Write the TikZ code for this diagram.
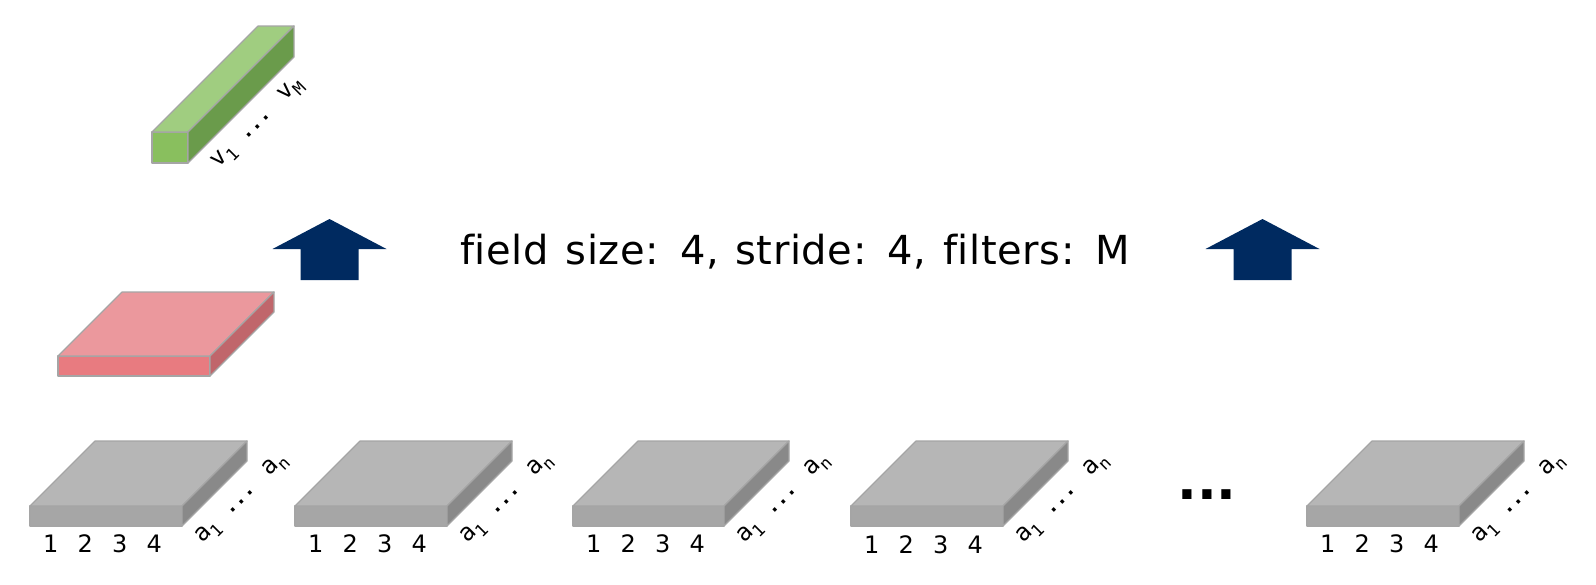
\documentclass[tikz,border=0pt]{standalone}
\usepackage{fontspec}
\setmainfont{DejaVu Sans}
\newfontfamily\monofam{DejaVu Sans Mono}
\newfontfamily\titlefont[WordSpace=1.25,LetterSpace=1.5,Ligatures=CommonOff]{DejaVu Sans}
\usetikzlibrary{calc}
\definecolor{edgegray}{RGB}{165,165,165}
\definecolor{graytop}{RGB}{182,182,182}
\definecolor{grayfront}{RGB}{166,166,166}
\definecolor{grayside}{RGB}{137,137,137}
\definecolor{redtop}{RGB}{235,152,157}
\definecolor{redfront}{RGB}{232,123,128}
\definecolor{redside}{RGB}{192,102,107}
\definecolor{greentop}{RGB}{160,205,128}
\definecolor{greenfront}{RGB}{137,191,94}
\definecolor{greenside}{RGB}{106,155,75}
\definecolor{navy}{RGB}{0,42,96}
\newcommand\idx[1]{\raisebox{-0.28em}{\fontsize{17}{17}\selectfont #1}}
\newcommand\mydots{{\fontsize{20}{20}\selectfont\bfseries...}}
% name, x, y (front top-left), width, height, depth, colour prefix
\newcommand\prism[7]{%
  \coordinate (#1-ftl) at (#2,#3);
  \coordinate (#1-ftr) at (#2+#4,#3);
  \coordinate (#1-fbr) at (#2+#4,#3+#5);
  \coordinate (#1-fbl) at (#2,#3+#5);
  \coordinate (#1-btl) at (#2+#6,#3-#6);
  \coordinate (#1-btr) at (#2+#4+#6,#3-#6);
  \coordinate (#1-bbr) at (#2+#4+#6,#3+#5-#6);
  \filldraw[facebox, fill=#7front] (#1-ftl) -- (#1-ftr) -- (#1-fbr) -- (#1-fbl) -- cycle;
  \filldraw[facebox, fill=#7top] (#1-ftl) -- (#1-btl) -- (#1-btr) -- (#1-ftr) -- cycle;
  \filldraw[facebox, fill=#7side] (#1-ftr) -- (#1-btr) -- (#1-bbr) -- (#1-fbr) -- cycle;
}
% name, centre x
\newcommand\blockarrow[2]{%
  \coordinate (#1) at (#2,219);
  \fill[navy] (#1) -- ++(57,30) -- ++(-28,0) -- ++(0,31) -- ++(-58,0) -- ++(0,-31) -- ++(-28,0) -- cycle;
}
\begin{document}
\begin{tikzpicture}[x=1pt,y=-1pt,
  facebox/.style={draw=edgegray, line width=1.2pt, line join=round},
  digits/.style={font=\fontsize{24}{24}\selectfont, inner sep=0pt, anchor=base},
  diag/.style={font=\monofam\fontsize{24}{24}\selectfont, inner sep=0pt, rotate=45},
  titletext/.style={font=\titlefont\fontsize{40}{44}\selectfont, inner sep=0pt, anchor=base west},
  bigdots/.style={font=\bfseries\fontsize{52}{52}\selectfont, inner sep=0pt, anchor=base}]
\useasboundingbox (0,0) rectangle (1596,584);

% green output bar
\prism{g}{152}{132}{36}{31}{106}{green}
\node[diag] (glab) at ($(g-fbr)+(70,-39)$) {v\idx{1} \mydots{} v\idx{M}};

% red filter slab
\prism{r}{58}{356}{152}{20}{64}{red}

% arrows and title
\blockarrow{ar1}{329.5}
\blockarrow{ar2}{1262.5}
\node[titletext] (title) at (460,264) {field size: 4, stride: 4, filters: M};

% gray input slabs
\prism{s1}{30}{506}{152}{20}{65}{gray}
\prism{s2}{295}{506}{152}{20}{65}{gray}
\prism{s3}{573}{506}{151}{20}{65}{gray}
\prism{s4}{851}{506}{152}{20}{65}{gray}
\prism{s5}{1307}{506}{152}{20}{65}{gray}

\foreach \s in {s1,s2,s3,s5}{
  \node[digits] (\s-num) at ($(\s-fbl)+(72.5,26)$) {1\hspace{19.2pt}2\hspace{19.2pt}3\hspace{19.2pt}4};
  \node[diag] (\s-lab) at ($(\s-fbr)+(60,-27)$) {a\idx{1} \mydots{} a\idx{n}};
}
\node[digits] (s4-num) at ($(s4-fbl)+(72.5,27.5)$) {1\hspace{19.2pt}2\hspace{19.2pt}3\hspace{19.2pt}4};
\node[diag] (s4-lab) at ($(s4-fbr)+(60,-27)$) {a\idx{1} \mydots{} a\idx{n}};

\node[bigdots] (dots) at (1207,499) {...};
\end{tikzpicture}
\end{document}
